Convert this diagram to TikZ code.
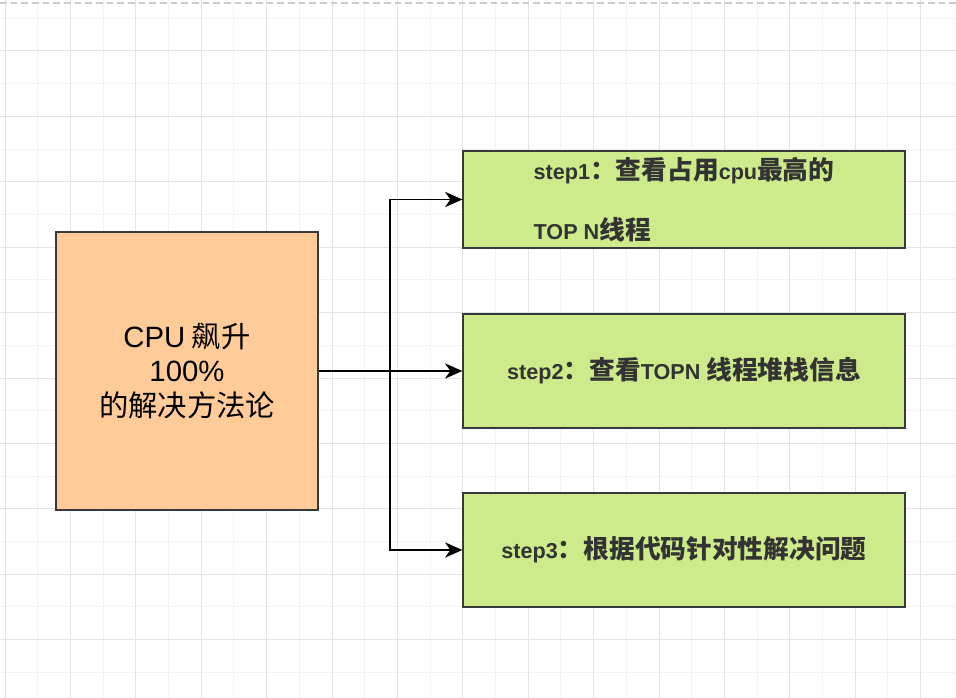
\documentclass[tikz,border=0pt]{standalone}
\usepackage{fontspec}
\setmainfont{Noto Sans CJK SC}
\newfontfamily\latinfont{Liberation Sans}
\newfontfamily\latinsmall[Scale=0.84]{Liberation Sans}
\newcommand\lat[1]{{\latinsmall\bfseries #1}}
\usetikzlibrary{arrows.meta}

\definecolor{peach}{HTML}{FFCC99}
\definecolor{leaf}{HTML}{CDEB8B}
\definecolor{edge}{HTML}{36393D}
\definecolor{gridmajor}{HTML}{E4E4E4}
\definecolor{gridminor}{HTML}{F3F3F3}

\begin{document}
\begin{tikzpicture}[x=0.75pt,y=0.75pt,yscale=-1,xscale=1,
  rootbox/.style={draw=edge,line width=1pt,fill=peach,minimum width=196.5pt,minimum height=208.5pt,
    align=center,font=\fontsize{22}{26}\selectfont},
  stepbox/.style={draw=edge,line width=1pt,fill=leaf,minimum width=331.5pt,minimum height=85.5pt,
    text=black!80,font=\fontsize{19.3}{45}\selectfont\bfseries},
  link/.style={line width=1.1pt,-{Stealth[length=13pt,width=11.5pt,inset=4pt]}}]
\useasboundingbox (0,0) rectangle (956,698);
\fill[white] (0,0) rectangle (956,698);

%Grid
\foreach \i in {0,...,29} \draw[gridminor,line width=0.75pt] ({5+32.7*\i},0) -- ({5+32.7*\i},698);
\foreach \i in {-1,...,21} \draw[gridminor,line width=0.75pt] (0,{51+32.7*\i}) -- (956,{51+32.7*\i});
\foreach \i in {0,...,14} \draw[gridmajor,line width=0.75pt] ({5+65.4*\i},0) -- ({5+65.4*\i},698);
\foreach \i in {-1,...,10} \draw[gridmajor,line width=0.75pt] (0,{51+65.4*\i}) -- (956,{51+65.4*\i});
%Page edge
\draw[black!20,line width=1pt,dash pattern=on 5pt off 3pt] (0,3) -- (956,3);

%Shape: Rectangle [root]
\node[rootbox] (root) at (187,371) {{\latinfont CPU} 飙升\\{\latinfont 100\%}\\的解决方法论};
%Shape: Rectangle [step1]
\node[stepbox,minimum height=72.75pt,align=left] (s1) at (684,199.5) {\lat{step1}：查看占用\lat{cpu}最高的\\\lat{TOP N}线程};
%Shape: Rectangle [step2]
\node[stepbox] (s2) at (684,371) {\lat{step2}：查看\lat{TOPN }线程堆栈信息};
%Shape: Rectangle [step3]
\node[stepbox] (s3) at (684,550) {\lat{step3}：根据代码针对性解决问题};

%Connectors
\coordinate (fork) at (390,371);
\draw[link] (root.east) -- (s2.west);
\draw[link] (fork) |- (s1.west);
\draw[link] (fork) |- (s3.west);

\end{tikzpicture}
\end{document}
